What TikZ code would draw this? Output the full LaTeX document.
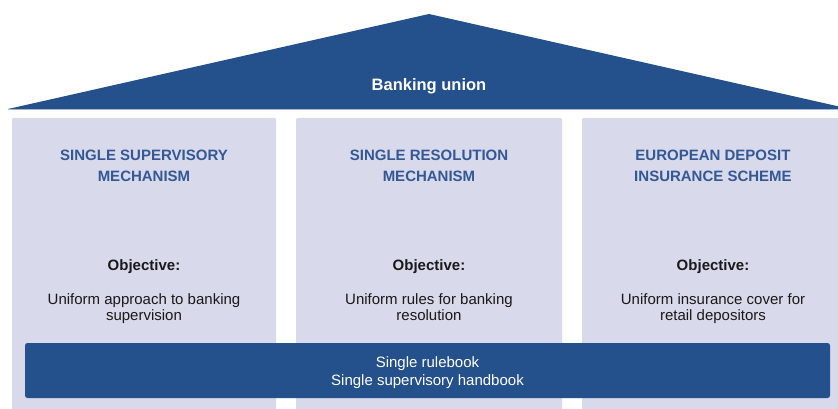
\documentclass[tikz,border=0pt]{standalone}
\usepackage{fontspec}
\setmainfont{Liberation Sans}
\definecolor{roofblue}{RGB}{36,80,139}
\definecolor{pillarfill}{RGB}{216,217,234}
\definecolor{titleblue}{RGB}{52,88,150}
\definecolor{edgeline}{RGB}{165,182,212}
\definecolor{darktext}{RGB}{25,25,25}
\begin{document}
\begin{tikzpicture}[x=1pt,y=-1pt,
  pillar/.style={fill=pillarfill, rounded corners=2pt},
  titletext/.style={font=\bfseries\fontsize{15}{21}\selectfont, text=titleblue, align=center, inner sep=0pt},
  objtext/.style={font=\bfseries\fontsize{15}{18}\selectfont, text=darktext, inner sep=0pt, anchor=base},
  desctext/.style={font=\fontsize{15}{16.5}\selectfont, text=darktext, align=center, inner sep=0pt},
  bartext/.style={font=\fontsize{15}{18}\selectfont, text=white, align=center, inner sep=0pt}]
\useasboundingbox (0,0) rectangle (838,409);
\clip (0,0) rectangle (838,409);
% roof
\fill[roofblue] (8,109) -- (429,14) -- (850,109) -- cycle;
\draw[edgeline, line width=1.2pt] (8,109.6) -- (838,109.6);
\node[font=\bfseries\fontsize{16.5}{18}\selectfont, text=white, inner sep=0pt, anchor=base] (roof) at (429,90.5) {Banking union};
% pillars
\fill[pillar] (12,118) rectangle (276,430);
\fill[pillar] (296,118) rectangle (562,430);
\fill[pillar] (582,118) rectangle (848,430);
% titles
\node[titletext] (t1) at (144,166) {SINGLE SUPERVISORY\\MECHANISM};
\node[titletext] (t2) at (429,166) {SINGLE RESOLUTION\\MECHANISM};
\node[titletext] (t3) at (713,166) {EUROPEAN DEPOSIT\\INSURANCE SCHEME};
% objective
\node[objtext] (o1) at (144,270) {Objective:};
\node[objtext] (o2) at (429,270) {Objective:};
\node[objtext] (o3) at (713,270) {Objective:};
% descriptions
\node[desctext] (d1) at (144,308.5) {Uniform approach to banking\\supervision};
\node[desctext] (d2) at (429,307) {Uniform rules for banking\\resolution};
\node[desctext] (d3) at (713,308.5) {Uniform insurance cover for\\retail depositors};
% base bar
\fill[roofblue, rounded corners=2.5pt] (25,343) rectangle (830,398);
\node[bartext] (bar) at (427.5,372.5) {Single rulebook\\Single supervisory handbook};
\end{tikzpicture}
\end{document}
